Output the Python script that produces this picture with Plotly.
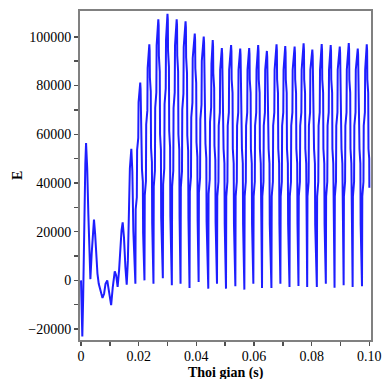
import plotly.graph_objects as go

# Time in milliseconds (converted to seconds for the axis) and E values
time_ms = [
    # start-up transient
    0.00, 0.20, 0.45, 0.75, 1.05, 1.35, 1.50, 1.75, 2.15, 2.55, 2.90, 3.25,
    3.70, 4.15, 4.50, 4.90, 5.35, 5.70, 6.15, 6.70, 7.45, 8.00, 8.50, 9.10,
    9.65, 10.45, 11.00, 11.70, 12.20, 12.70, 13.20, 13.65, 14.05, 14.45, 14.90,
    15.40, 15.85, 16.25, 16.55, 16.95, 17.45, 17.80, 18.15, 18.50,
    # growing cycles
    18.86, 18.96, 19.36, 19.46, 19.86, 19.96, 20.54, 20.66, 20.74, 21.04, 21.14, 21.44, 21.54,
    22.01, 22.11, 22.51, 22.61, 23.01, 23.11, 23.69, 23.81, 23.89, 24.19, 24.29, 24.59, 24.69,
    25.13, 25.23, 25.63, 25.73, 26.13, 26.23, 26.81, 26.93, 27.01, 27.31, 27.41, 27.71, 27.81,
    28.38, 28.48, 28.88, 28.98, 29.38, 29.48, 29.99, 30.11, 30.19, 30.49, 30.59, 30.89, 30.99,
    31.50, 31.60, 32.00, 32.10, 32.50, 32.60, 33.18, 33.30, 33.38, 33.68, 33.78, 34.08, 34.18,
    34.52, 34.62, 35.02, 35.12, 35.52, 35.62, 36.26, 36.38, 36.46, 36.76, 36.86, 37.16, 37.26,
    37.64, 37.74, 38.14, 38.24, 38.64, 38.74, 39.45, 39.57, 39.65, 39.95, 40.05, 40.35, 40.45,
    40.79, 40.89, 41.29, 41.39, 41.79, 41.89, 42.56, 42.68, 42.76, 43.06, 43.16, 43.46, 43.56,
    44.14, 44.24, 44.64, 44.74, 45.14, 45.24, 45.68, 45.80, 45.88, 46.18, 46.28, 46.58, 46.68,
    # steady cycles
    47.16, 47.26, 47.66, 47.76, 48.16, 48.26, 48.84, 48.96, 49.04, 49.34, 49.44, 49.74, 49.84,
    50.28, 50.38, 50.78, 50.88, 51.28, 51.38, 52.05, 52.17, 52.25, 52.55, 52.65, 52.95, 53.05,
    53.53, 53.63, 54.03, 54.13, 54.53, 54.63, 55.21, 55.33, 55.41, 55.71, 55.81, 56.11, 56.21,
    56.65, 56.75, 57.15, 57.25, 57.65, 57.75, 58.32, 58.44, 58.52, 58.82, 58.92, 59.22, 59.32,
    59.77, 59.87, 60.27, 60.37, 60.77, 60.87, 61.44, 61.56, 61.64, 61.94, 62.04, 62.34, 62.44,
    62.78, 62.88, 63.28, 63.38, 63.78, 63.88, 64.46, 64.58, 64.66, 64.96, 65.06, 65.36, 65.46,
    66.04, 66.14, 66.54, 66.64, 67.04, 67.14, 67.81, 67.93, 68.01, 68.31, 68.41, 68.71, 68.81,
    69.15, 69.25, 69.65, 69.75, 70.15, 70.25, 70.83, 70.95, 71.03, 71.33, 71.43, 71.73, 71.83,
    72.31, 72.41, 72.81, 72.91, 73.31, 73.41, 74.08, 74.20, 74.28, 74.58, 74.68, 74.98, 75.08,
    75.42, 75.52, 75.92, 76.02, 76.42, 76.52, 77.20, 77.32, 77.40, 77.70, 77.80, 78.10, 78.20,
    78.44, 78.54, 78.94, 79.04, 79.44, 79.54, 80.22, 80.34, 80.42, 80.72, 80.82, 81.12, 81.22,
    81.79, 81.89, 82.29, 82.39, 82.79, 82.89, 83.47, 83.59, 83.67, 83.97, 84.07, 84.37, 84.47,
    84.91, 85.01, 85.41, 85.51, 85.91, 86.01, 86.59, 86.71, 86.79, 87.09, 87.19, 87.49, 87.59,
    87.93, 88.03, 88.43, 88.53, 88.93, 89.03, 89.74, 89.86, 89.94, 90.24, 90.34, 90.64, 90.74,
    91.08, 91.18, 91.58, 91.68, 92.08, 92.18, 92.86, 92.98, 93.06, 93.36, 93.46, 93.76, 93.86,
    94.20, 94.30, 94.70, 94.80, 95.20, 95.30, 95.98, 96.10, 96.18, 96.48, 96.58, 96.88, 96.98,
    97.45, 97.55, 97.95, 98.05, 98.45, 98.55, 99.10, 99.22, 99.30, 99.60, 99.70, 99.95, 100.00,
]

E_values = [
    # start-up transient
    0, -13000, -23000, -7000, 23000, 46000, 48000, 56400, 46000, 27000, 9500, 500,
    10900, 21800, 25000, 19000, 8000, 2800, -1400, -3500, -7200, -5500, -1400, 0,
    -4500, -10200, -3000, 3700, 2000, -2700, 4100, 13600, 20400, 23800, 17700,
    5400, -1800, 8100, 25000, 46000, 54000, 44900, 20400, 6800,
    # growing cycles
    -1400, 29200, 34100, 53600, 58500, 73100, 81200, 78700, 69800, 65000, 45500, 40600, 19500,
    0, 34900, 40700, 64000, 69800, 87200, 96900, 94400, 83300, 77500, 54300, 48500, 23300,
    -1400, 38600, 45000, 70800, 77200, 96500, 107200, 104700, 92200, 85800, 60000, 53600, 25700,
    900, 39400, 46000, 72300, 78800, 98600, 109500, 107000, 94200, 87600, 61300, 54800, 26300,
    -2000, 38600, 45000, 70800, 77200, 96500, 107200, 104700, 92200, 85800, 60000, 53600, 25700,
    -1400, 38300, 44700, 70200, 76600, 95800, 106400, 103900, 91500, 85100, 59600, 53200, 25500,
    -3100, 36500, 42500, 66900, 72900, 91200, 101300, 98800, 87100, 81000, 56700, 50700, 24300,
    -700, 36000, 42000, 66100, 72100, 90100, 100100, 97600, 86100, 80100, 56100, 50100, 24000,
    -3400, 35500, 41500, 65100, 71100, 88800, 98700, 96200, 84900, 79000, 55300, 49400, 23700,
    # steady cycles
    -1400, 34500, 40500, 63500, 69000, 86500, 95400, 92900, 82500, 77000, 54000, 48000, 23000,
    -3400, 34500, 40500, 63500, 69000, 86500, 96600, 94100, 82500, 77000, 54000, 48000, 23000,
    -2400, 34500, 40500, 63500, 69000, 86500, 95200, 92700, 82500, 77000, 54000, 48000, 23000,
    -3800, 34500, 40500, 63500, 69000, 86500, 95400, 92900, 82500, 77000, 54000, 48000, 23000,
    -1400, 34500, 40500, 63500, 69000, 86500, 96600, 94100, 82500, 77000, 54000, 48000, 23000,
    -3100, 34500, 40500, 63500, 69000, 86500, 94200, 91700, 82500, 77000, 54000, 48000, 23000,
    -3100, 34500, 40500, 63500, 69000, 86500, 96900, 94400, 82500, 77000, 54000, 48000, 23000,
    -1400, 34500, 40500, 63500, 69000, 86500, 96200, 93700, 82500, 77000, 54000, 48000, 23000,
    -2700, 34500, 40500, 63500, 69000, 86500, 96000, 93500, 82500, 77000, 54000, 48000, 23000,
    -2300, 34500, 40500, 63500, 69000, 86500, 97300, 94800, 82500, 77000, 54000, 48000, 23000,
    -2700, 34500, 40500, 63500, 69000, 86500, 94800, 92300, 82500, 77000, 54000, 48000, 23000,
    -2700, 34500, 40500, 63500, 69000, 86500, 97000, 94500, 82500, 77000, 54000, 48000, 23000,
    -1400, 34500, 40500, 63500, 69000, 86500, 96600, 94100, 82500, 77000, 54000, 48000, 23000,
    -3000, 34500, 40500, 63500, 69000, 86500, 96000, 93500, 82500, 77000, 54000, 48000, 23000,
    -2000, 34500, 40500, 63500, 69000, 86500, 97400, 94900, 82500, 77000, 54000, 48000, 23000,
    -2700, 34500, 40500, 63500, 69000, 86500, 95200, 92700, 82500, 77000, 54000, 48000, 23000,
    -2400, 34500, 40500, 63500, 69000, 86500, 96900, 94400, 82500, 77000, 54000, 50000, 38000,
]

x_tickvals = [0, 0.02, 0.04, 0.06, 0.08, 0.10]
x_ticktext = ["0", "0.02", "0.04", "0.06", "0.08", "0.10"]
x_minorvals = [0.01, 0.03, 0.05, 0.07, 0.09]

y_tickvals = [-20000, 0, 20000, 40000, 60000, 80000, 100000]
y_ticktext = ["\u221220000", "0", "20000", "40000", "60000", "80000", "100000"]
y_minorvals = [-10000, 10000, 30000, 50000, 70000, 90000]

x_title = "Thoi gian (s)"
y_title = "E"

FONT = "Liberation Serif, Times New Roman, serif"

time_s = [v / 1000.0 for v in time_ms]

fig = go.Figure(
    go.Scatter(
        x=time_s,
        y=E_values,
        mode="lines",
        line=dict(color="rgb(30,30,255)", width=2),
        hoverinfo="skip",
    )
)

axis_common = dict(
    showgrid=False,
    zeroline=False,
    showline=True,
    linecolor="#808080",
    linewidth=2,
    mirror=True,
    ticks="outside",
    ticklen=4,
    tickwidth=1.5,
    tickcolor="#505050",
    tickfont=dict(family=FONT, size=14, color="black"),
)

fig.update_layout(
    width=391,
    height=379,
    margin=dict(l=80, r=10, t=9, b=39),
    paper_bgcolor="white",
    plot_bgcolor="white",
    showlegend=False,
    xaxis=dict(
        range=[-0.00035, 0.10057],
        tickmode="array",
        tickvals=x_tickvals,
        ticktext=x_ticktext,
        ticklabelstandoff=-2,
        minor=dict(tickmode="array", tickvals=x_minorvals, ticks="outside",
                   ticklen=4, tickwidth=1.5, tickcolor="#505050"),
        **axis_common,
    ),
    yaxis=dict(
        range=[-24490, 110610],
        tickmode="array",
        tickvals=y_tickvals,
        ticktext=y_ticktext,
        minor=dict(tickmode="array", tickvals=y_minorvals, ticks="outside",
                   ticklen=4, tickwidth=1.5, tickcolor="#505050"),
        **axis_common,
    ),
    annotations=[
        dict(text="<b>%s</b>" % x_title, xref="paper", yref="paper",
             x=0.5, y=-0.1, xanchor="center", yanchor="middle",
             showarrow=False, font=dict(family=FONT, size=14, color="black")),
        dict(text="<b>%s</b>" % y_title, xref="paper", yref="paper",
             x=-0.215, y=0.5, xanchor="center", yanchor="middle", textangle=-90,
             showarrow=False, font=dict(family=FONT, size=14, color="black")),
    ],
)

fig.write_html(
    "out.html",
    config={"displayModeBar": False, "staticPlot": True},
    post_script="document.body.style.margin='0';document.body.style.overflow='hidden';",
)
